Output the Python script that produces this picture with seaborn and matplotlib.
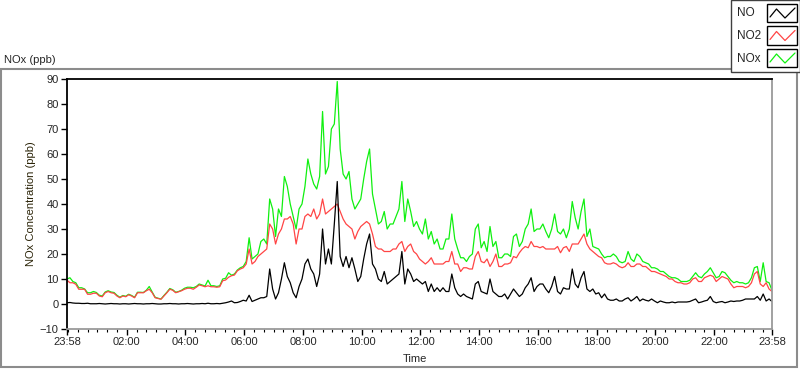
import numpy as np
import pandas as pd
import seaborn as sns
import matplotlib
matplotlib.use("Agg")
from matplotlib import pyplot as plt
from matplotlib.patches import Rectangle
from matplotlib.lines import Line2D

# readings every 6 minutes starting at 23:58, one row of 10 per hour
step_min = 6

no = [
    0.5, 0.6, 0.4, 0.3, 0.3, 0.2, 0.2, 0.3, 0.1, 0.1,
    0.1, 0.2, 0.1, 0.0, 0.1, 0.2, 0.1, 0.1, 0.0, 0.1,
    0.1, 0.0, 0.1, 0.2, 0.1, 0.1, 0.0, 0.1, 0.1, 0.2,
    0.1, 0.0, 0.0, 0.1, 0.1, 0.2, 0.1, 0.1, 0.0, 0.1,
    0.1, 0.2, 0.1, 0.0, 0.1, 0.1, 0.2, 0.1, 0.3, 0.1,
    0.1, 0.2, 0.1, 0.3, 0.5, 0.8, 1.2, 0.5, 0.6, 1.0,
    1.5, 1.2, 3.5, 1.0, 1.5, 2.0, 2.5, 2.5, 3.0, 14,
    6, 2, 4.5, 10, 16.5, 11, 8.5, 4.5, 2.5, 7,
    10, 16, 18, 14, 12, 7, 12, 30, 16, 22,
    16, 32, 49, 19, 15, 19, 14.5, 18.5, 14, 9,
    11, 18, 24, 28, 16, 14, 10, 9, 13, 8,
    9, 10, 11, 12, 21, 8, 14, 12, 9, 10,
    9, 8, 9, 5, 8, 5, 6.5, 5, 6.5, 5,
    5, 12, 6.5, 4, 3, 4, 3, 2.5, 2, 8,
    9, 5, 4.5, 4, 10, 5, 4, 3, 3, 4,
    2, 4, 6, 4.5, 3, 4, 6.5, 8, 10.5, 5,
    7, 8, 8, 6, 4.5, 7, 11, 5, 4, 6.5,
    6, 6, 14, 8, 6.5, 10.5, 13, 6, 5, 6,
    4, 4.5, 2.5, 4, 2, 1.5, 1.5, 2, 1.2, 1.2,
    2, 2.5, 1.2, 2, 3, 1.2, 2, 1.5, 1.2, 2,
    1.2, 0.5, 1.2, 0.8, 0.5, 0.5, 0.8, 0.5, 0.8, 0.8,
    0.8, 0.8, 1.0, 1.5, 2.0, 0.5, 0.8, 1.2, 1.5, 3.0,
    1.0, 0.5, 0.8, 1.0, 0.5, 0.8, 1.2, 1.0, 1.2, 1.2,
    1.5, 2.0, 2.0, 2.0, 2.0, 3.0, 1.5, 4.0, 1.2, 2.0, 1.0,
]

no2 = [
    9.5, 8.5, 8.5, 7.9, 5.9, 5.9, 5.9, 3.9, 3.9, 4.3,
    4.3, 3.2, 2.9, 4.5, 5.0, 4.5, 4.3, 3.2, 2.5, 3.2,
    2.9, 3.7, 3.2, 2.5, 4.5, 4.5, 4.5, 5.3, 5.9, 4.5,
    2.5, 2.2, 1.9, 3.2, 4.5, 5.9, 5.5, 4.5, 4.9, 5.3,
    5.9, 6.3, 6.3, 5.9, 6.7, 7.6, 7.3, 6.9, 7.3, 6.9,
    6.9, 6.7, 6.9, 9.3, 9.6, 10.7, 11.3, 11.6, 13.3, 14,
    14.5, 16, 22, 16, 17, 19, 20, 21, 22, 32,
    30, 24, 28, 30, 34, 34, 35, 32, 24, 30,
    30, 35, 36, 35, 38, 34, 36, 42, 36, 37,
    38, 39, 40, 37, 34, 32, 31, 30, 26, 29,
    31, 32, 33, 32, 28, 23, 22, 22, 21, 21,
    21, 22, 22, 24, 25, 21, 23, 24, 21, 20,
    18, 17, 16, 17, 18.5, 16, 16, 16, 16, 17,
    17, 21, 16, 16, 13, 14.5, 14.5, 14, 14, 19,
    21, 17, 16.5, 18, 15, 17, 20, 15, 15, 16,
    16, 16.5, 19, 18.5, 20.5, 22, 23, 22.5, 25, 23,
    23, 22.5, 23, 22, 22, 22, 22, 23, 20.5, 22.5,
    23, 21, 24, 24, 24, 26, 28, 24, 22, 21,
    20, 19, 18.5, 16.5, 16, 16, 16.5, 16, 15, 14.5,
    15, 16.5, 15, 15, 16, 16, 15, 15, 14, 13,
    13, 12.5, 12, 11.5, 11, 10, 10, 9, 8.5, 8.5,
    8, 8, 8.5, 10, 10.5, 9, 9, 10.5, 11, 11.5,
    11, 9, 10, 11, 10.5, 10, 8, 6.5, 7, 7,
    7, 6.5, 7, 8.5, 12, 13, 8, 7, 8.5, 6, 5,
]

nox = [
    10, 10.5, 9, 8.5, 6.5, 6.5, 6, 4.5, 4.5, 5,
    4.6, 3.5, 3.2, 4.8, 5.3, 4.8, 4.6, 3.5, 2.7, 3.4,
    3.1, 3.9, 3.4, 2.7, 4.7, 4.7, 4.6, 5.5, 7, 4.8,
    2.7, 2.3, 2, 3.4, 4.7, 6.2, 5.7, 4.7, 5, 5.5,
    6.3, 6.7, 6.7, 6.5, 7, 8, 7.6, 7.2, 9.5, 7.3,
    7.3, 7, 7.3, 10, 10.3, 12.5, 11.5, 12, 13.6, 14.5,
    15, 17, 26.5, 18, 19, 20, 25, 26, 24, 42,
    38, 27, 38, 35, 51, 47, 40, 35, 30, 38,
    40, 47, 58, 52, 48, 46, 51, 77, 52, 55,
    70, 72, 89, 62, 52, 50, 53, 42, 38, 40,
    42, 50, 57, 62, 44, 38, 32, 33, 37, 30,
    32, 32, 35, 38, 49, 33, 42, 37, 31, 33,
    30, 28, 34, 26, 29, 24, 26, 22, 22, 26,
    26, 36, 26, 22, 18.5, 18.5, 17, 19, 20, 30,
    32, 22.5, 25, 21, 31, 23, 25, 18.5, 18.5, 20,
    20, 19, 27, 28, 23, 25, 30, 32, 38, 29,
    30, 30, 32, 29, 26.5, 30, 36, 29, 28, 30,
    26.5, 30, 41, 34.5, 30, 37, 42, 27, 30, 23,
    22.5, 22, 20, 18.5, 19, 19, 20, 19, 17, 16.5,
    17, 21, 18, 17, 20, 19, 17, 16.5, 16, 14.5,
    14.5, 14, 13, 13, 12, 11, 10.5, 10.5, 10, 9,
    9, 9, 9.5, 11, 12.5, 11, 10.5, 12, 13, 14.5,
    12.5, 10.5, 11, 13, 12.5, 11, 9.5, 8.5, 9, 8.5,
    8.5, 8, 8.5, 10.5, 14.5, 15, 9, 16.5, 9, 8.5, 5.5,
]

tick_minutes = [0, 122, 242, 362, 482, 602, 722, 842, 962, 1082, 1202, 1322, 1440]
tick_labels = ["23:58", "02:00", "04:00", "06:00", "08:00", "10:00", "12:00",
               "14:00", "16:00", "18:00", "20:00", "22:00", "23:58"]
series_names = ["NO", "NO2", "NOx"]
colors = {"NO": "black", "NO2": "#ff4545", "NOx": "#10f010"}

minutes = np.arange(len(no)) * step_min
frames = []
for name, vals in zip(series_names, [no, no2, nox]):
    frames.append(pd.DataFrame({"Time": minutes, "ppb": vals, "Label": name}))
data = pd.concat(frames, ignore_index=True)

sns.set_style("white")
plt.rcParams["font.family"] = ["Liberation Sans", "DejaVu Sans"]

W, H = 800, 369
fig = plt.figure(figsize=(W / 100, H / 100), dpi=100)


def fx(x):
    return x / W


def fy(y):
    return 1 - y / H


# outer panel frame
fig.add_artist(Rectangle((fx(1), fy(367)), fx(796), (367 - 69) / H, transform=fig.transFigure,
                         fill=False, edgecolor="#8c8c8c", linewidth=1.5, zorder=0))

ax = fig.add_axes([fx(67), fy(329), fx(705), 250 / H])
sns.lineplot(data=data, x="Time", y="ppb", hue="Label", hue_order=["NOx", "NO2", "NO"],
             palette=colors, linewidth=0.9, estimator=None, legend=False, ax=ax)

ax.set_xlim(0, 1440)
ax.set_ylim(-10, 90)
ax.set_yticks(range(-10, 91, 10))
ax.set_xticks(tick_minutes)
ax.set_xticklabels(tick_labels)
minor = [m for m in range(2, 1440, 20) if m not in tick_minutes]
ax.set_xticks(minor, minor=True)
ax.tick_params(axis="both", which="major", direction="out", length=4, width=1,
               color="black", labelsize=8, pad=2, left=True, bottom=True)
ax.tick_params(axis="x", which="minor", direction="out", length=2, width=0.8,
               color="black", bottom=True)
ax.set_xlabel("")
ax.set_ylabel("")
for side in ["left", "top"]:
    ax.spines[side].set_color("black")
    ax.spines[side].set_linewidth(1.3)
for side in ["right", "bottom"]:
    ax.spines[side].set_color("#9a9a9a")
    ax.spines[side].set_linewidth(1.3)

fig.text(fx(4), fy(60), "NOx (ppb)", fontsize=8, ha="left", va="center")
fig.text(fx(415), fy(359), "Time", fontsize=8, ha="center", va="center")
fig.text(fx(31), fy(204), "NOx Concentration (ppb)", fontsize=8, rotation=90,
         ha="center", va="center", color="#2b2408")

# legend panel in the top right corner
fig.add_artist(Rectangle((fx(731), fy(72)), fx(69), 72 / H, transform=fig.transFigure,
                         facecolor="white", edgecolor="#404040", linewidth=1, zorder=5))
for i, name in enumerate(series_names):
    top = 4 + 22.5 * i
    bot = top + 18
    fig.text(fx(737), fy(top + 9.5), name, fontsize=8.5, ha="left", va="center", zorder=6)
    fig.add_artist(Rectangle((fx(767), fy(bot)), fx(30), 18 / H, transform=fig.transFigure,
                             facecolor="white", edgecolor="black", linewidth=1, zorder=6))
    zx = [770, 776.5, 785, 795]
    zy = [bot - 5, top + 5, bot - 4, top + 4]
    fig.add_artist(Line2D([fx(v) for v in zx], [fy(v) for v in zy], transform=fig.transFigure,
                          color=colors[name], linewidth=0.9, zorder=7))

fig.savefig("out.png", dpi=100)
